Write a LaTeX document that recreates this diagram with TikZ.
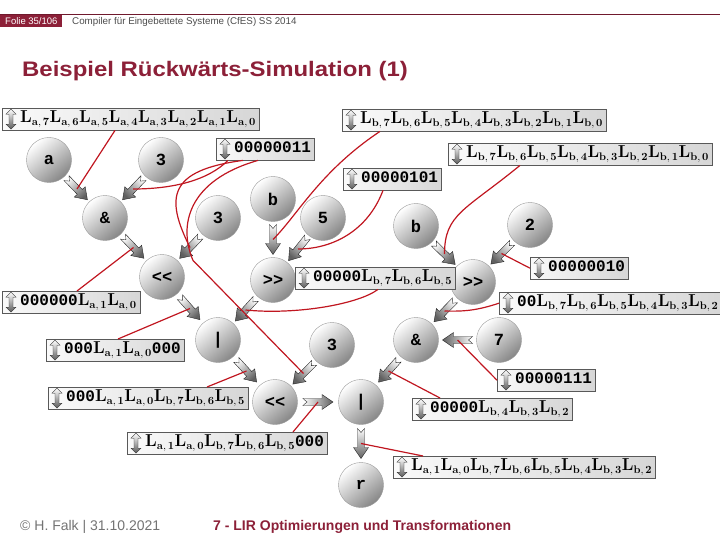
\documentclass[tikz,border=0pt]{standalone}
\usepackage[no-math]{fontspec}
\newfontfamily\slidefont{Liberation Sans}
\newfontfamily\titlefont{Liberation Sans}[FakeStretch=1.14]
\newfontfamily\bitfont{Liberation Mono}
\usepackage{tikz}
\usetikzlibrary{positioning,calc}
\definecolor{slidered}{RGB}{140,32,56}
\definecolor{wire}{RGB}{192,22,32}
\newcommand{\bitL}[2]{$\mathbf{L}_{\mathbf{#1},\,\mathbf{#2}}$}

\begin{document}
\begin{tikzpicture}[
        x=1pt, y=-1pt,
        % Distâncias centro a centro
        node distance=50pt, on grid,
        % Estilos
        op/.style={circle, draw=gray!80, minimum size=45pt, inner sep=0pt,
            top color=white, bottom color=gray!95, shading angle=40,
            font=\fontsize{17}{17}\selectfont\bitfont\bfseries},
        lbl/.style={rectangle, draw=gray!70!black, anchor=north west,
            left color=gray!4, right color=gray!32,
            minimum height=22pt, inner xsep=3pt, inner ysep=0pt,
            text height=12pt, text depth=5pt,
            font=\fontsize{16}{18}\selectfont\bitfont\bfseries,
            execute at begin node={\hspace*{15pt}}},
        txt/.style={anchor=base west, inner sep=0pt},
        link/.style={draw=wire, line width=1.2pt},
        bicon/.pic={\draw[draw=black!80, line width=0.3pt, top color=white, bottom color=black!65]
            (0pt,10pt) -- (5pt,5pt) -- (2pt,5pt) -- (2pt,-5pt) -- (5pt,-5pt) -- (0pt,-10pt)
            -- (-5pt,-5pt) -- (-2pt,-5pt) -- (-2pt,5pt) -- (-5pt,5pt) -- cycle;},
        barrow/.pic={\draw[draw=black!85, line width=0.4pt, top color=gray!75!black, bottom color=white, shading angle=#1]
            (-15pt,3.5pt) -- (4pt,3.5pt) -- (4pt,7.5pt) -- (15pt,0pt) -- (4pt,-7.5pt)
            -- (4pt,-3.5pt) -- (-15pt,-3.5pt) -- (-11pt,0pt) -- cycle;}
    ]
        \useasboundingbox (0,0) rectangle (720,540);

        % Cabeçalho
        \node (folie) [anchor=north west, fill=slidered, text=white, inner xsep=5pt, inner ysep=2pt,
            minimum height=13pt, font=\fontsize{9.5}{10}\selectfont\slidefont] at (0,14) {Folie 35/106};
        \draw [slidered!80!black, line width=0.8pt] (folie.north west) -- ++(720pt,0pt);
        \node (course) [txt, text=black!70, font=\fontsize{9.8}{10}\selectfont\slidefont] at (72,25)
            {Compiler für Eingebettete Systeme (CfES) SS 2014};
        \node (title) [txt, text=slidered, font=\fontsize{21}{24}\selectfont\titlefont\bfseries] at (22,77)
            {Beispiel Rückwärts-Simulation (1)};

        % Operandos e operadores
        \node (a) [op] at (49,160) {a};
        \node (three1) [op, right=112pt of a] {3};
        \node (and1) [op, below right=58pt and 56pt of a] {\&};
        \node (three2) [op, right=113pt of and1] {3};
        \node (b1) [op, above right=19pt and 55pt of three2] {b};
        \node (five) [op, right=105pt of three2] {5};
        \node (shl1) [op, below right=59pt and 57pt of and1] {<\kern0pt<};
        \node (shr1) [op, below=81pt of b1] {>\kern0pt>};
        \node (or1) [op, below right=63pt and 56pt of shl1] {|};
        \node (three3) [op, below right=5pt and 114pt of or1] {3};
        \node (shl2) [op, below right=62pt and 57pt of or1] {<\kern0pt<};
        \node (or2) [op, right=86pt of shl2] {|};
        \node (r) [op, below=83pt of or2] {r};
        \node (and2) [op, above right=62pt and 55pt of or2] {\&};
        \node (seven) [op, right=83pt of and2] {7};
        \node (shr2) [op, above right=58pt and 57pt of and2] {>\kern0pt>};
        \node (b2) [op, above left=56pt and 57pt of shr2] {b};
        \node (two) [op, above right=57pt and 57pt of shr2] {2};

        % Valores de bits
        \node (lblLa) [lbl] at (2,108) {\bitL{a}{7}\bitL{a}{6}\bitL{a}{5}\bitL{a}{4}\bitL{a}{3}\bitL{a}{2}\bitL{a}{1}\bitL{a}{0}};
        \node (lblLb1) [lbl] at (342,109) {\bitL{b}{7}\bitL{b}{6}\bitL{b}{5}\bitL{b}{4}\bitL{b}{3}\bitL{b}{2}\bitL{b}{1}\bitL{b}{0}};
        \node (lbl3) [lbl] at (216,138) {00000011};
        \node (lblLb2) [lbl] at (448,143) {\bitL{b}{7}\bitL{b}{6}\bitL{b}{5}\bitL{b}{4}\bitL{b}{3}\bitL{b}{2}\bitL{b}{1}\bitL{b}{0}};
        \node (lbl5) [lbl] at (343,168) {00000101};
        \node (lbl2) [lbl] at (530,257) {00000010};
        \node (lbl7) [lbl] at (295,267) {00000\bitL{b}{7}\bitL{b}{6}\bitL{b}{5}};
        \node (lbl8) [lbl] at (2,291) {000000\bitL{a}{1}\bitL{a}{0}};
        \node (lbl9) [lbl] at (499,292) {00\bitL{b}{7}\bitL{b}{6}\bitL{b}{5}\bitL{b}{4}\bitL{b}{3}\bitL{b}{2}};
        \node (lbl10) [lbl] at (46,339) {000\bitL{a}{1}\bitL{a}{0}000};
        \node (lbl11) [lbl] at (497,369) {00000111};
        \node (lbl12) [lbl] at (48,387) {000\bitL{a}{1}\bitL{a}{0}\bitL{b}{7}\bitL{b}{6}\bitL{b}{5}};
        \node (lbl13) [lbl] at (412,398) {00000\bitL{b}{4}\bitL{b}{3}\bitL{b}{2}};
        \node (lbl14) [lbl] at (127,432) {\bitL{a}{1}\bitL{a}{0}\bitL{b}{7}\bitL{b}{6}\bitL{b}{5}000};
        \node (lbl15) [lbl] at (393,456) {\bitL{a}{1}\bitL{a}{0}\bitL{b}{7}\bitL{b}{6}\bitL{b}{5}\bitL{b}{4}\bitL{b}{3}\bitL{b}{2}};

        % Ícones das caixas
        \foreach \bx in {lblLa, lblLb1, lbl3, lblLb2, lbl5, lbl2, lbl7, lbl8, lbl9, lbl10, lbl11, lbl12, lbl13, lbl14, lbl15}
            \pic at ([xshift=9pt]\bx.west) {bicon};

        % Setas entre os nós
        \foreach \src/\dst in {a/and1, three1/and1, and1/shl1, three2/shl1, b1/shr1, five/shr1,
                b2/shr2, two/shr2, shl1/or1, shr1/or1, or1/shl2, three3/shl2,
                shr2/and2, seven/and2, and2/or2, shl2/or2, or2/r} {
            \coordinate (\src-\dst) at ($(\src)!0.5!(\dst)$);
            \path let \p1=($(\dst)-(\src)$), \n1={atan2(\y1,\x1)}, \n2={\n1-90} in
                (\src-\dst) pic[rotate=\n1] {barrow=\n2};
        }

        % --- Linhas de valores ---
        \draw [link] ([xshift=113pt]lblLa.south west) -- (a-and1);
        \draw [link] ([xshift=38pt]lblLb1.south west) .. controls +(-60pt,-40pt) and +(25pt,25pt) .. (b1-shr1);
        \draw [link] ([xshift=12pt]lbl3.south west) .. controls +(-20pt,-20pt) and +(40pt,0pt) .. (three1-and1);
        \draw [link] ([xshift=27pt]lbl3.south west) .. controls +(-75pt,-10pt) and +(-25pt,50pt) .. (three2-shl1);
        \draw [link] ([xshift=42pt]lbl3.south west) .. controls +(-70pt,-20pt) and +(-15pt,35pt) .. ++(-65pt,-100pt) -- (three3-shl2);
        \draw [link] ([xshift=72pt]lblLb2.south west) .. controls +(-55pt,-45pt) and +(0pt,40pt) .. (b2-shr2);
        \draw [link] ([xshift=40pt]lbl5.south west) .. controls +(-15pt,-40pt) and +(35pt,0pt) .. (five-shr1);
        \draw [link] (lbl2.west) -- (two-shr2);
        \draw [link] ([xshift=83pt]lbl7.south west) .. controls +(-20pt,-15pt) and +(50pt,-5pt) .. (shr1-or1);
        \draw [link] ([xshift=75pt]lbl8.north west) -- (and1-shl1);
        \draw [link] (lbl9.west) to [bend left=10] (shr2-and2);
        \draw [link] ([xshift=72pt]lbl10.north west) -- (shl1-or1);
        \draw [link] (lbl11.west) -- (seven-and2);
        \draw [link] ([xshift=159pt]lbl12.north west) -- (or1-shl2);
        \draw [link] ([xshift=28pt]lbl13.north west) -- (and2-or2);
        \draw [link] ([xshift=166pt]lbl14.north west) -- (shl2-or2);
        \draw [link] ([xshift=30pt]lbl15.north west) -- (or2-r);

        % Rodapé
        \node (copyright) [txt, text=black!55, font=\fontsize{14}{16}\selectfont\slidefont] at (20,530) {© H. Falk | 31.10.2021};
        \node (chapter) [txt, text=slidered, font=\fontsize{14}{16}\selectfont\slidefont\bfseries] at (213,530)
            {7 - LIR Optimierungen und Transformationen};
    \end{tikzpicture}
\end{document}
